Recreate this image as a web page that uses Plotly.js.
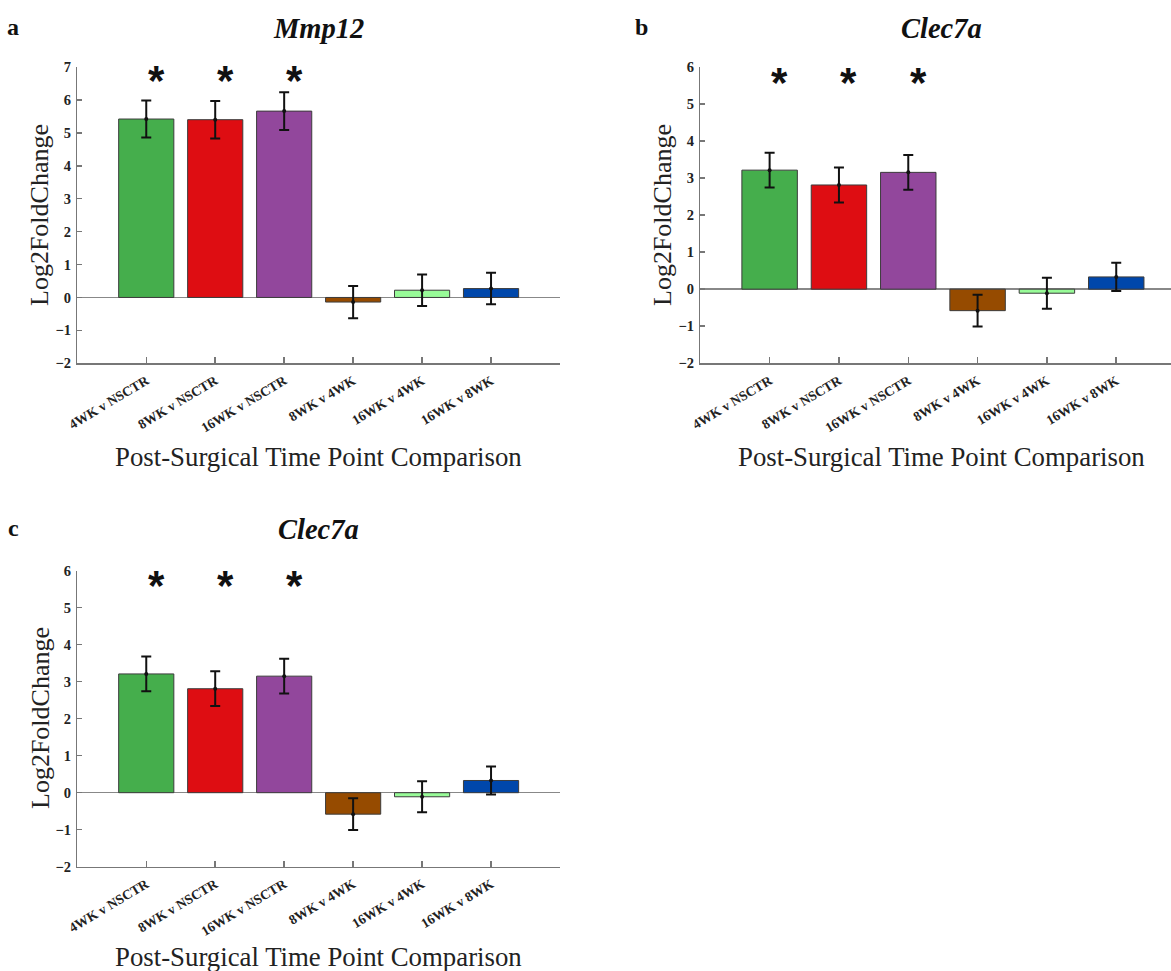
<!DOCTYPE html>
<html><head><meta charset="utf-8">
<script src="https://cdn.plot.ly/plotly-3.0.1.min.js"></script>
<style>html,body{margin:0;padding:0;background:#fff}#chart{width:1171px;height:971px}</style>
</head><body><div id="chart"></div>
<script>
const categories = ['4WK v NSCTR','8WK v NSCTR','16WK v NSCTR','8WK v 4WK','16WK v 4WK','16WK v 8WK'];
const barColors = ['#45AE4C','#DE0D12','#92479C','#964B00','#98FB98','#0047AB'];
const mmp12Values = [5.42, 5.40, 5.66, -0.14, 0.22, 0.27];
const mmp12Errors = [0.56, 0.57, 0.57, 0.49, 0.48, 0.48];
const clec7aValues = [3.21, 2.81, 3.15, -0.58, -0.11, 0.33];
const clec7aErrors = [0.47, 0.47, 0.47, 0.43, 0.42, 0.38];
const significant = ['*','*','*','','',''];
const yTicksA = [-2,-1,0,1,2,3,4,5,6,7];
const yTicksBC = [-2,-1,0,1,2,3,4,5,6];

const W = 1171, H = 971;
const px = v => v / W;
const py = v => 1 - v / H;
const SERIF = 'Liberation Serif, Times New Roman, serif';

const panels = [
  {letter:'a', title:'Mmp12', values:mmp12Values, errors:mmp12Errors, yTicks:yTicksA, starLevel:6.75,
   xa:'x', ya:'y', xDom:[px(77.3), px(560)], yDom:[py(363.3), py(67)], xRange:[-1,6], yRange:[-2,7],
   letterPos:[13,27], titlePos:[318.6,28], yTitlePos:[40,215], xTitlePos:[318.6,457]},
  {letter:'b', title:'Clec7a', values:clec7aValues, errors:clec7aErrors, yTicks:yTicksBC, starLevel:5.72,
   xa:'x2', ya:'y2', xDom:[px(700.3), 1], yDom:[py(363.3), py(66.7)], xRange:[-1,5.79], yRange:[-2,6],
   letterPos:[641,27], titlePos:[941.5,28], yTitlePos:[663,215], xTitlePos:[941.5,457]},
  {letter:'c', title:'Clec7a', values:clec7aValues, errors:clec7aErrors, yTicks:yTicksBC, starLevel:5.74,
   xa:'x3', ya:'y3', xDom:[px(77.3), px(560)], yDom:[py(866.7), py(570.7)], xRange:[-1,6], yRange:[-2,6],
   letterPos:[13,528], titlePos:[318.6,529], yTitlePos:[40,718], xTitlePos:[318.6,957]}
];

const data = [];
const annotations = [];
const layout = {
  width: W, height: H, margin:{l:0,r:0,t:0,b:0}, paper_bgcolor:'#fff', plot_bgcolor:'#fff',
  showlegend:false, bargap:0.2
};

panels.forEach(p => {
  data.push({
    type:'bar', x:categories, y:p.values, width:0.8, xaxis:p.xa, yaxis:p.ya,
    marker:{color:barColors, line:{color:'#3c3c3c', width:1}},
    error_y:{type:'data', array:p.errors, visible:true, color:'#111', thickness:2, width:5},
    hoverinfo:'skip'
  });
  data.push({
    type:'scatter', mode:'markers', x:categories, y:p.values, xaxis:p.xa, yaxis:p.ya,
    marker:{color:'#111', size:4}, hoverinfo:'skip'
  });
  const xk = p.xa === 'x' ? 'xaxis' : 'xaxis' + p.xa.slice(1);
  const yk = p.ya === 'y' ? 'yaxis' : 'yaxis' + p.ya.slice(1);
  layout[xk] = {
    type:'category', categoryorder:'array', categoryarray:categories, range:p.xRange, domain:p.xDom,
    anchor:p.ya, showline:true, linecolor:'#777', linewidth:1.5, ticks:'inside', ticklen:6,
    tickcolor:'#777', tickwidth:1.5, tickangle:-31, showgrid:false, zeroline:false, fixedrange:true,
    ticklabelstandoff:3,
    tickfont:{family:SERIF, size:13.5, weight:'bold', color:'#222'}
  };
  layout[yk] = {
    range:p.yRange, domain:p.yDom, anchor:p.xa, tickmode:'array', tickvals:p.yTicks,
    showline:true, linecolor:'#777', linewidth:1.5, ticks:'inside', ticklen:5, tickcolor:'#777',
    tickwidth:1.5, showgrid:false, zeroline:true, zerolinecolor:'#888', zerolinewidth:1.5,
    ticklabelstandoff:2, fixedrange:true,
    tickfont:{family:SERIF, size:14.5, weight:'bold', color:'#222'}
  };
  categories.forEach((c, i) => {
    if (significant[i]) annotations.push({
      xref:p.xa, yref:p.ya, x:c, y:p.starLevel, text:significant[i], showarrow:false,
      xshift:10, yshift:-5, yanchor:'middle',
      font:{family:'Liberation Sans, Arial, sans-serif', size:42, weight:'bold', color:'#111'}
    });
  });
  annotations.push({xref:'paper', yref:'paper', x:px(p.letterPos[0]), y:py(p.letterPos[1]), text:'<b>'+p.letter+'</b>',
    showarrow:false, xanchor:'center', yanchor:'middle', font:{family:SERIF, size:24, color:'#111'}});
  annotations.push({xref:'paper', yref:'paper', x:px(p.titlePos[0]), y:py(p.titlePos[1]), text:'<b><i>'+p.title+'</i></b>',
    showarrow:false, xanchor:'center', yanchor:'middle', font:{family:SERIF, size:28.5, color:'#111'}});
  annotations.push({xref:'paper', yref:'paper', x:px(p.yTitlePos[0]), y:py(p.yTitlePos[1]), text:'Log2FoldChange',
    textangle:-90, showarrow:false, xanchor:'center', yanchor:'middle', font:{family:SERIF, size:26, color:'#222'}});
  annotations.push({xref:'paper', yref:'paper', x:px(p.xTitlePos[0]), y:py(p.xTitlePos[1]), text:'Post-Surgical Time Point Comparison',
    showarrow:false, xanchor:'center', yanchor:'middle', font:{family:SERIF, size:26.8, color:'#222'}});
});
layout.annotations = annotations;

Plotly.newPlot('chart', data, layout, {staticPlot:true, displayModeBar:false});
</script></body></html>
